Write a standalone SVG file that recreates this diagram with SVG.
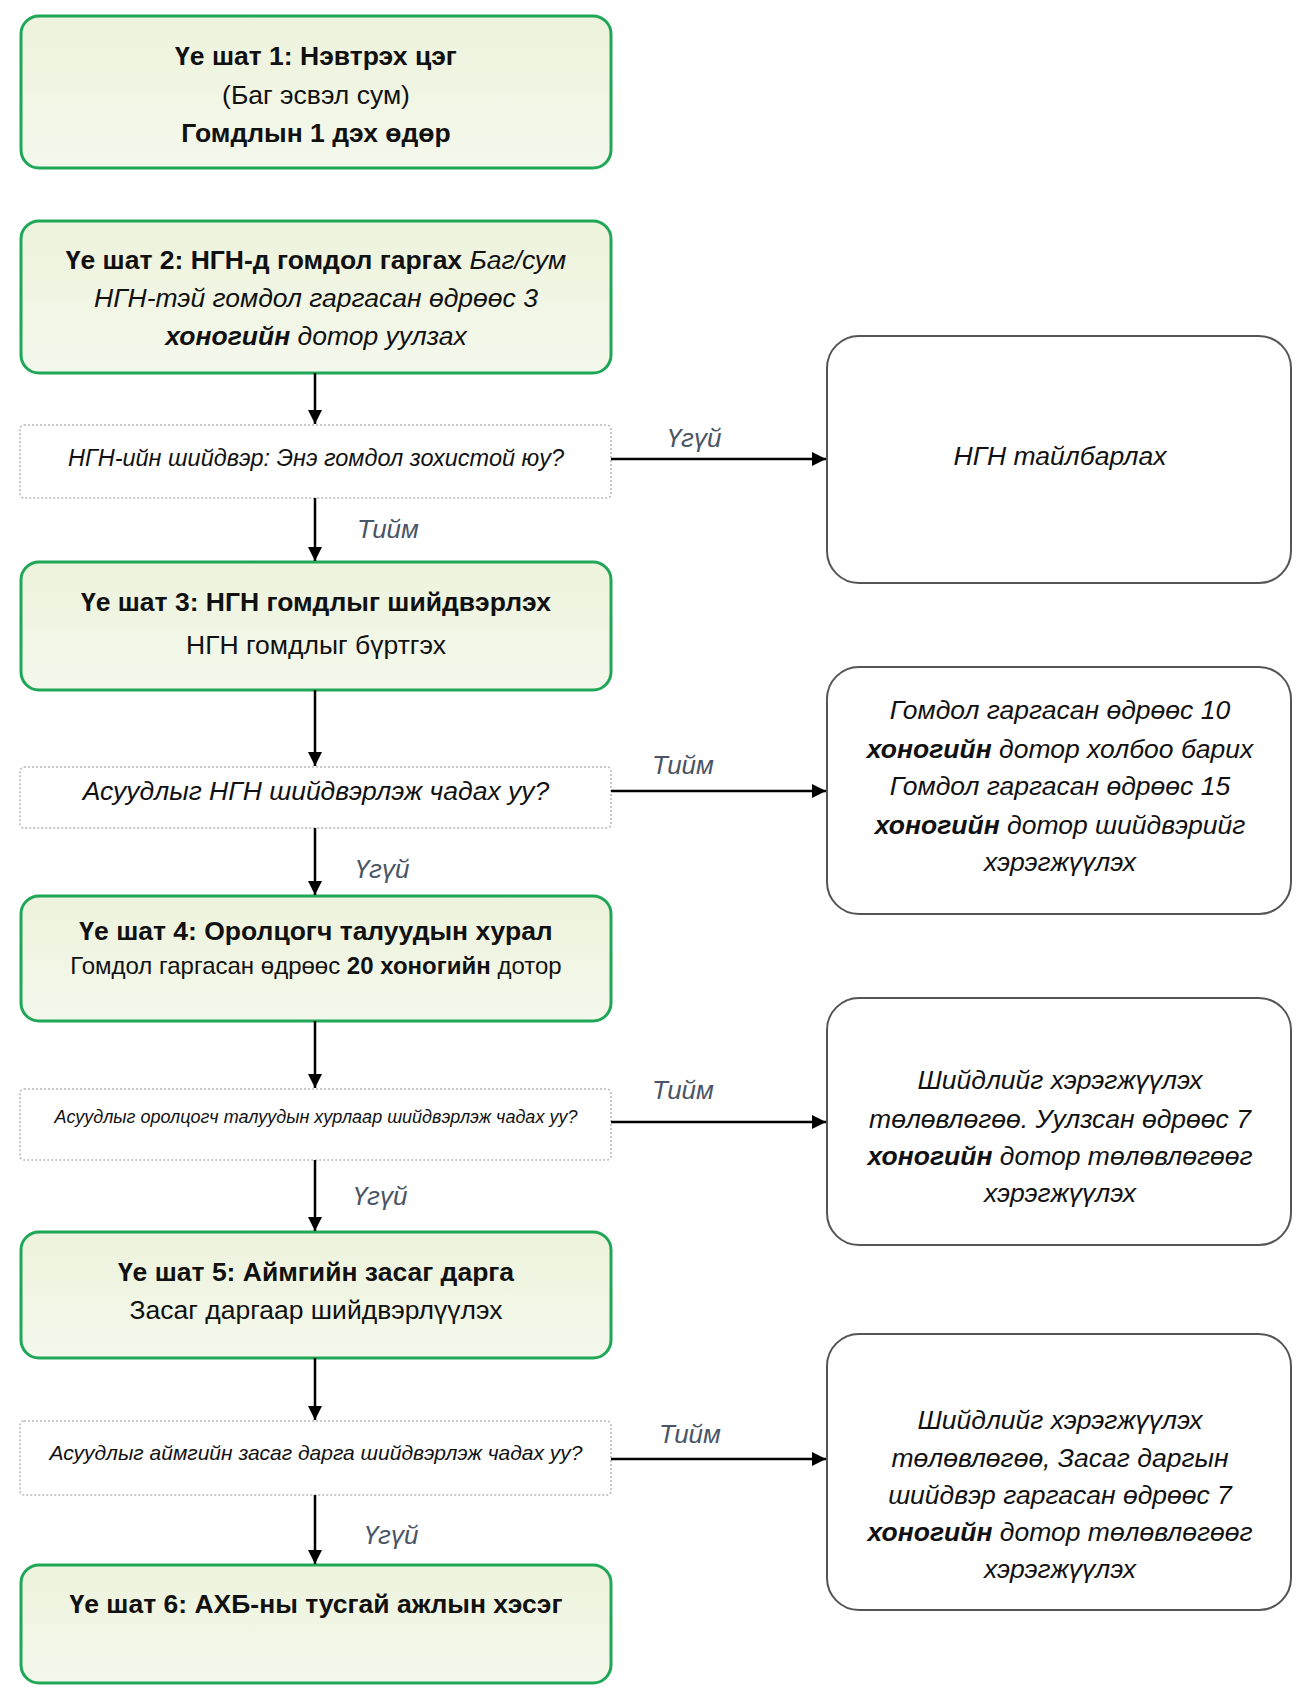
<svg xmlns="http://www.w3.org/2000/svg" width="1306" height="1687" viewBox="0 0 1306 1687">
<defs>
<marker id="ah" viewBox="0 0 10 10" refX="10" refY="5" markerWidth="14" markerHeight="14" markerUnits="userSpaceOnUse" orient="auto">
<path d="M0,0 L10,5 L0,10 z" fill="#000"/>
</marker>
<linearGradient id="gf" x1="0" y1="0" x2="0" y2="1">
<stop offset="0" stop-color="#edf3dc"/>
<stop offset="1" stop-color="#f4f8ec"/>
</linearGradient>
</defs>
<style>
.step{fill:url(#gf);stroke:#1ea757;stroke-width:3}
.res{fill:#fff;stroke:#555;stroke-width:2}
.dec{fill:#fff;stroke:#b8b8b8;stroke-width:1.5;stroke-dasharray:2 2}
text{font-family:"Liberation Sans",Arial,sans-serif;fill:#111;text-anchor:middle}
.t{font-size:26.5px}
.b{font-weight:bold}
.i{font-style:italic}
.lbl{font-size:26px;font-style:italic;fill:#4a5566}
.conn line{stroke:#000;stroke-width:2.5;marker-end:url(#ah)}
</style>
<rect width="1306" height="1687" fill="#fff"/>

<g id="step1">
<rect class="step" x="21" y="16" width="590" height="152" rx="18"/>
<text class="t b" x="316" y="65">Үе шат 1: Нэвтрэх цэг</text>
<text class="t" x="316" y="104">(Баг эсвэл сум)</text>
<text class="t b" x="316" y="142">Гомдлын 1 дэх өдөр</text>
</g>

<g id="step2">
<rect class="step" x="21" y="221" width="590" height="152" rx="18"/>
<text class="t" x="316" y="269"><tspan class="b">Үе шат 2: НГН-д гомдол гаргах </tspan><tspan class="i">Баг/сум</tspan></text>
<text class="t i" x="316" y="307">НГН-тэй гомдол гаргасан өдрөөс 3</text>
<text class="t i" x="316" y="345"><tspan class="b">хоногийн</tspan> дотор уулзах</text>
</g>

<g id="dec1">
<rect class="dec" x="20" y="425" width="591" height="73" rx="4"/>
<text class="i" x="316" y="466" style="font-size:23.5px">НГН-ийн шийдвэр: Энэ гомдол зохистой юу?</text>
</g>

<g id="res1">
<rect class="res" x="827" y="336" width="464" height="247" rx="32"/>
<text class="t i" x="1060" y="465">НГН тайлбарлах</text>
</g>

<g id="step3">
<rect class="step" x="21" y="562" width="590" height="128" rx="18"/>
<text class="t b" x="316" y="611">Үе шат 3: НГН гомдлыг шийдвэрлэх</text>
<text class="t" x="316" y="654">НГН гомдлыг бүртгэх</text>
</g>

<g id="dec2">
<rect class="dec" x="20" y="767" width="591" height="61" rx="4"/>
<text class="t i" x="316" y="800">Асуудлыг НГН шийдвэрлэж чадах уу?</text>
</g>

<g id="res2">
<rect class="res" x="827" y="667" width="464" height="247" rx="32"/>
<text class="t i" x="1060" y="719">Гомдол гаргасан өдрөөс 10</text>
<text class="t i" x="1060" y="758"><tspan class="b">хоногийн</tspan> дотор холбоо барих</text>
<text class="t i" x="1060" y="795">Гомдол гаргасан өдрөөс 15</text>
<text class="t i" x="1060" y="834"><tspan class="b">хоногийн</tspan> дотор шийдвэрийг</text>
<text class="t i" x="1060" y="871">хэрэгжүүлэх</text>
</g>

<g id="step4">
<rect class="step" x="21" y="896" width="590" height="125" rx="18"/>
<text class="t b" x="316" y="940">Үе шат 4: Оролцогч талуудын хурал</text>
<text x="316" y="974" style="font-size:24px">Гомдол гаргасан өдрөөс <tspan class="b">20 хоногийн</tspan> дотор</text>
</g>

<g id="dec3">
<rect class="dec" x="20" y="1089" width="591" height="71" rx="4"/>
<text class="i" x="316" y="1123" style="font-size:18px">Асуудлыг оролцогч талуудын хурлаар шийдвэрлэж чадах уу?</text>
</g>

<g id="res3">
<rect class="res" x="827" y="998" width="464" height="247" rx="32"/>
<text class="t i" x="1060" y="1089">Шийдлийг хэрэгжүүлэх</text>
<text class="t i" x="1060" y="1128">төлөвлөгөө. Уулзсан өдрөөс 7</text>
<text class="t i" x="1060" y="1165"><tspan class="b">хоногийн</tspan> дотор төлөвлөгөөг</text>
<text class="t i" x="1060" y="1202">хэрэгжүүлэх</text>
</g>

<g id="step5">
<rect class="step" x="21" y="1232" width="590" height="126" rx="18"/>
<text class="t b" x="316" y="1281">Үе шат 5: Аймгийн засаг дарга</text>
<text class="t" x="316" y="1319">Засаг даргаар шийдвэрлүүлэх</text>
</g>

<g id="dec4">
<rect class="dec" x="20" y="1421" width="591" height="74" rx="4"/>
<text class="i" x="316" y="1460" style="font-size:21px">Асуудлыг аймгийн засаг дарга шийдвэрлэж чадах уу?</text>
</g>

<g id="res4">
<rect class="res" x="827" y="1334" width="464" height="276" rx="32"/>
<text class="t i" x="1060" y="1429">Шийдлийг хэрэгжүүлэх</text>
<text class="t i" x="1060" y="1467">төлөвлөгөө, Засаг даргын</text>
<text class="t i" x="1060" y="1504">шийдвэр гаргасан өдрөөс 7</text>
<text class="t i" x="1060" y="1541"><tspan class="b">хоногийн</tspan> дотор төлөвлөгөөг</text>
<text class="t i" x="1060" y="1578">хэрэгжүүлэх</text>
</g>

<g id="step6">
<rect class="step" x="21" y="1565" width="590" height="118" rx="18"/>
<text class="t b" x="316" y="1613">Үе шат 6: АХБ-ны тусгай ажлын хэсэг</text>
</g>

<g id="connectors" class="conn">
<line x1="315" y1="373" x2="315" y2="424"/>
<line x1="315" y1="498" x2="315" y2="561"/>
<line x1="315" y1="690" x2="315" y2="766"/>
<line x1="315" y1="828" x2="315" y2="895"/>
<line x1="315" y1="1021" x2="315" y2="1088"/>
<line x1="315" y1="1160" x2="315" y2="1231"/>
<line x1="315" y1="1358" x2="315" y2="1420"/>
<line x1="315" y1="1495" x2="315" y2="1564"/>
<line x1="611" y1="459" x2="826" y2="459"/>
<line x1="611" y1="791" x2="826" y2="791"/>
<line x1="611" y1="1122" x2="826" y2="1122"/>
<line x1="611" y1="1459" x2="826" y2="1459"/>
<text class="lbl" x="388" y="538">Тийм</text>
<text class="lbl" x="382" y="878">Үгүй</text>
<text class="lbl" x="380" y="1205">Үгүй</text>
<text class="lbl" x="391" y="1544">Үгүй</text>
<text class="lbl" x="694" y="447">Үгүй</text>
<text class="lbl" x="683" y="774">Тийм</text>
<text class="lbl" x="683" y="1099">Тийм</text>
<text class="lbl" x="690" y="1443">Тийм</text>
</g>
</svg>
